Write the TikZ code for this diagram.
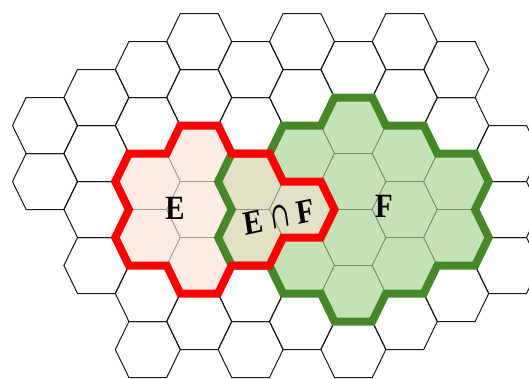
\documentclass[tikz,border=0pt]{standalone}
\usepackage{fontspec}
\setmainfont{Liberation Serif}
\newfontfamily\capfont{DejaVu Serif}
\usepackage{graphicx}
\definecolor{pinkfill}{RGB}{252,236,228}
\definecolor{pinkline}{RGB}{168,150,142}
\definecolor{olivefill}{RGB}{226,225,198}
\definecolor{oliveline}{RGB}{150,148,125}
\definecolor{greenfill}{RGB}{197,226,182}
\definecolor{greenline}{RGB}{112,142,100}
\definecolor{outgreen}{RGB}{70,136,40}
\definecolor{outred}{RGB}{255,0,0}
\tikzset{
  gridhex/.style={draw=black!90, line width=1pt, line join=miter},
  ehex/.style={draw=pinkline, fill=pinkfill, line width=0.8pt},
  efhex/.style={draw=oliveline, fill=olivefill, line width=0.8pt},
  fhex/.style={draw=greenline, fill=greenfill, line width=0.8pt},
  outlineE/.style={draw=outred, line width=8pt, line join=miter},
  outlineF/.style={draw=outgreen, line width=8pt, line join=miter},
  lab/.style={font=\fontsize{34}{34}\selectfont\bfseries, inner sep=0pt, xscale=0.85}
}
\begin{document}
\begin{tikzpicture}[x=1pt,y=-1pt]
\useasboundingbox (0,0) rectangle (529,378);
\fill[white] (0,0) rectangle (529,378);
\clip (0,0) rectangle (529,378);
% plain cells
\foreach \c/\r in {0/3,0/5,1/2,1/4,1/6,1/8,2/1,2/3,2/9,2/11,3/0,3/2,3/10,
  4/1,4/3,4/9,4/11,5/0,5/2,5/10,6/1,6/11,7/0,7/2,7/10,8/1,8/3,8/9,9/4,9/6,9/8}
  \draw[gridhex, shift={({45+51.4*\c},{41.5+28*\r})}]
    (-32.5,0) -- (-18.9,-28) -- (18.9,-28) -- (32.5,0) -- (18.9,28) -- (-18.9,28) -- cycle;
% E only
\foreach \c/\r in {2/5,2/7,3/4,3/6,3/8}
  \draw[ehex, shift={({45+51.4*\c},{41.5+28*\r})}]
    (-32.5,0) -- (-18.9,-28) -- (18.9,-28) -- (32.5,0) -- (18.9,28) -- (-18.9,28) -- cycle;
% F only
\foreach \c/\r in {5/4,5/8,6/3,6/5,6/7,6/9,7/4,7/6,7/8,8/5,8/7}
  \draw[fhex, shift={({45+51.4*\c},{41.5+28*\r})}]
    (-32.5,0) -- (-18.9,-28) -- (18.9,-28) -- (32.5,0) -- (18.9,28) -- (-18.9,28) -- cycle;
% E and F
\foreach \c/\r in {4/5,4/7,5/6}
  \draw[efhex, shift={({45+51.4*\c},{41.5+28*\r})}]
    (-32.5,0) -- (-18.9,-28) -- (18.9,-28) -- (32.5,0) -- (18.9,28) -- (-18.9,28) -- cycle;
% outline of F
\draw[outlineF] (231.7,153.5) -- (269.5,153.5) -- (283.1,125.5) -- (320.9,125.5)
  -- (334.5,97.5) -- (372.3,97.5) -- (385.9,125.5) -- (423.7,125.5) -- (437.3,153.5)
  -- (475.1,153.5) -- (488.7,181.5) -- (475.1,209.5) -- (488.7,237.5) -- (475.1,265.5)
  -- (437.3,265.5) -- (423.7,293.5) -- (385.9,293.5) -- (372.3,321.5) -- (334.5,321.5)
  -- (320.9,293.5) -- (283.1,293.5) -- (269.5,265.5) -- (231.7,265.5) -- (218.1,237.5)
  -- (231.7,209.5) -- (218.1,181.5) -- cycle;
% outline of E
\draw[outlineE] (218.1,125.5) -- (231.7,153.5) -- (269.5,153.5) -- (283.1,181.5)
  -- (320.9,181.5) -- (334.5,209.5) -- (320.9,237.5) -- (283.1,237.5) -- (269.5,265.5)
  -- (231.7,265.5) -- (218.1,293.5) -- (180.3,293.5) -- (166.7,265.5) -- (128.9,265.5)
  -- (115.3,237.5) -- (128.9,209.5) -- (115.3,181.5) -- (128.9,153.5) -- (166.7,153.5)
  -- (180.3,125.5) -- cycle;
% labels
\node[lab] (lE) at (175,208) {E};
\node[lab, rotate=10] (lEF) at (279,217) {E\hspace{10pt}\raisebox{1pt}{\scalebox{0.75}[1]{\capfont\mdseries\fontsize{36}{36}\selectfont ∩}}\hspace{9pt}F};
\node[lab] (lF) at (384,206) {F};
\end{tikzpicture}
\end{document}
